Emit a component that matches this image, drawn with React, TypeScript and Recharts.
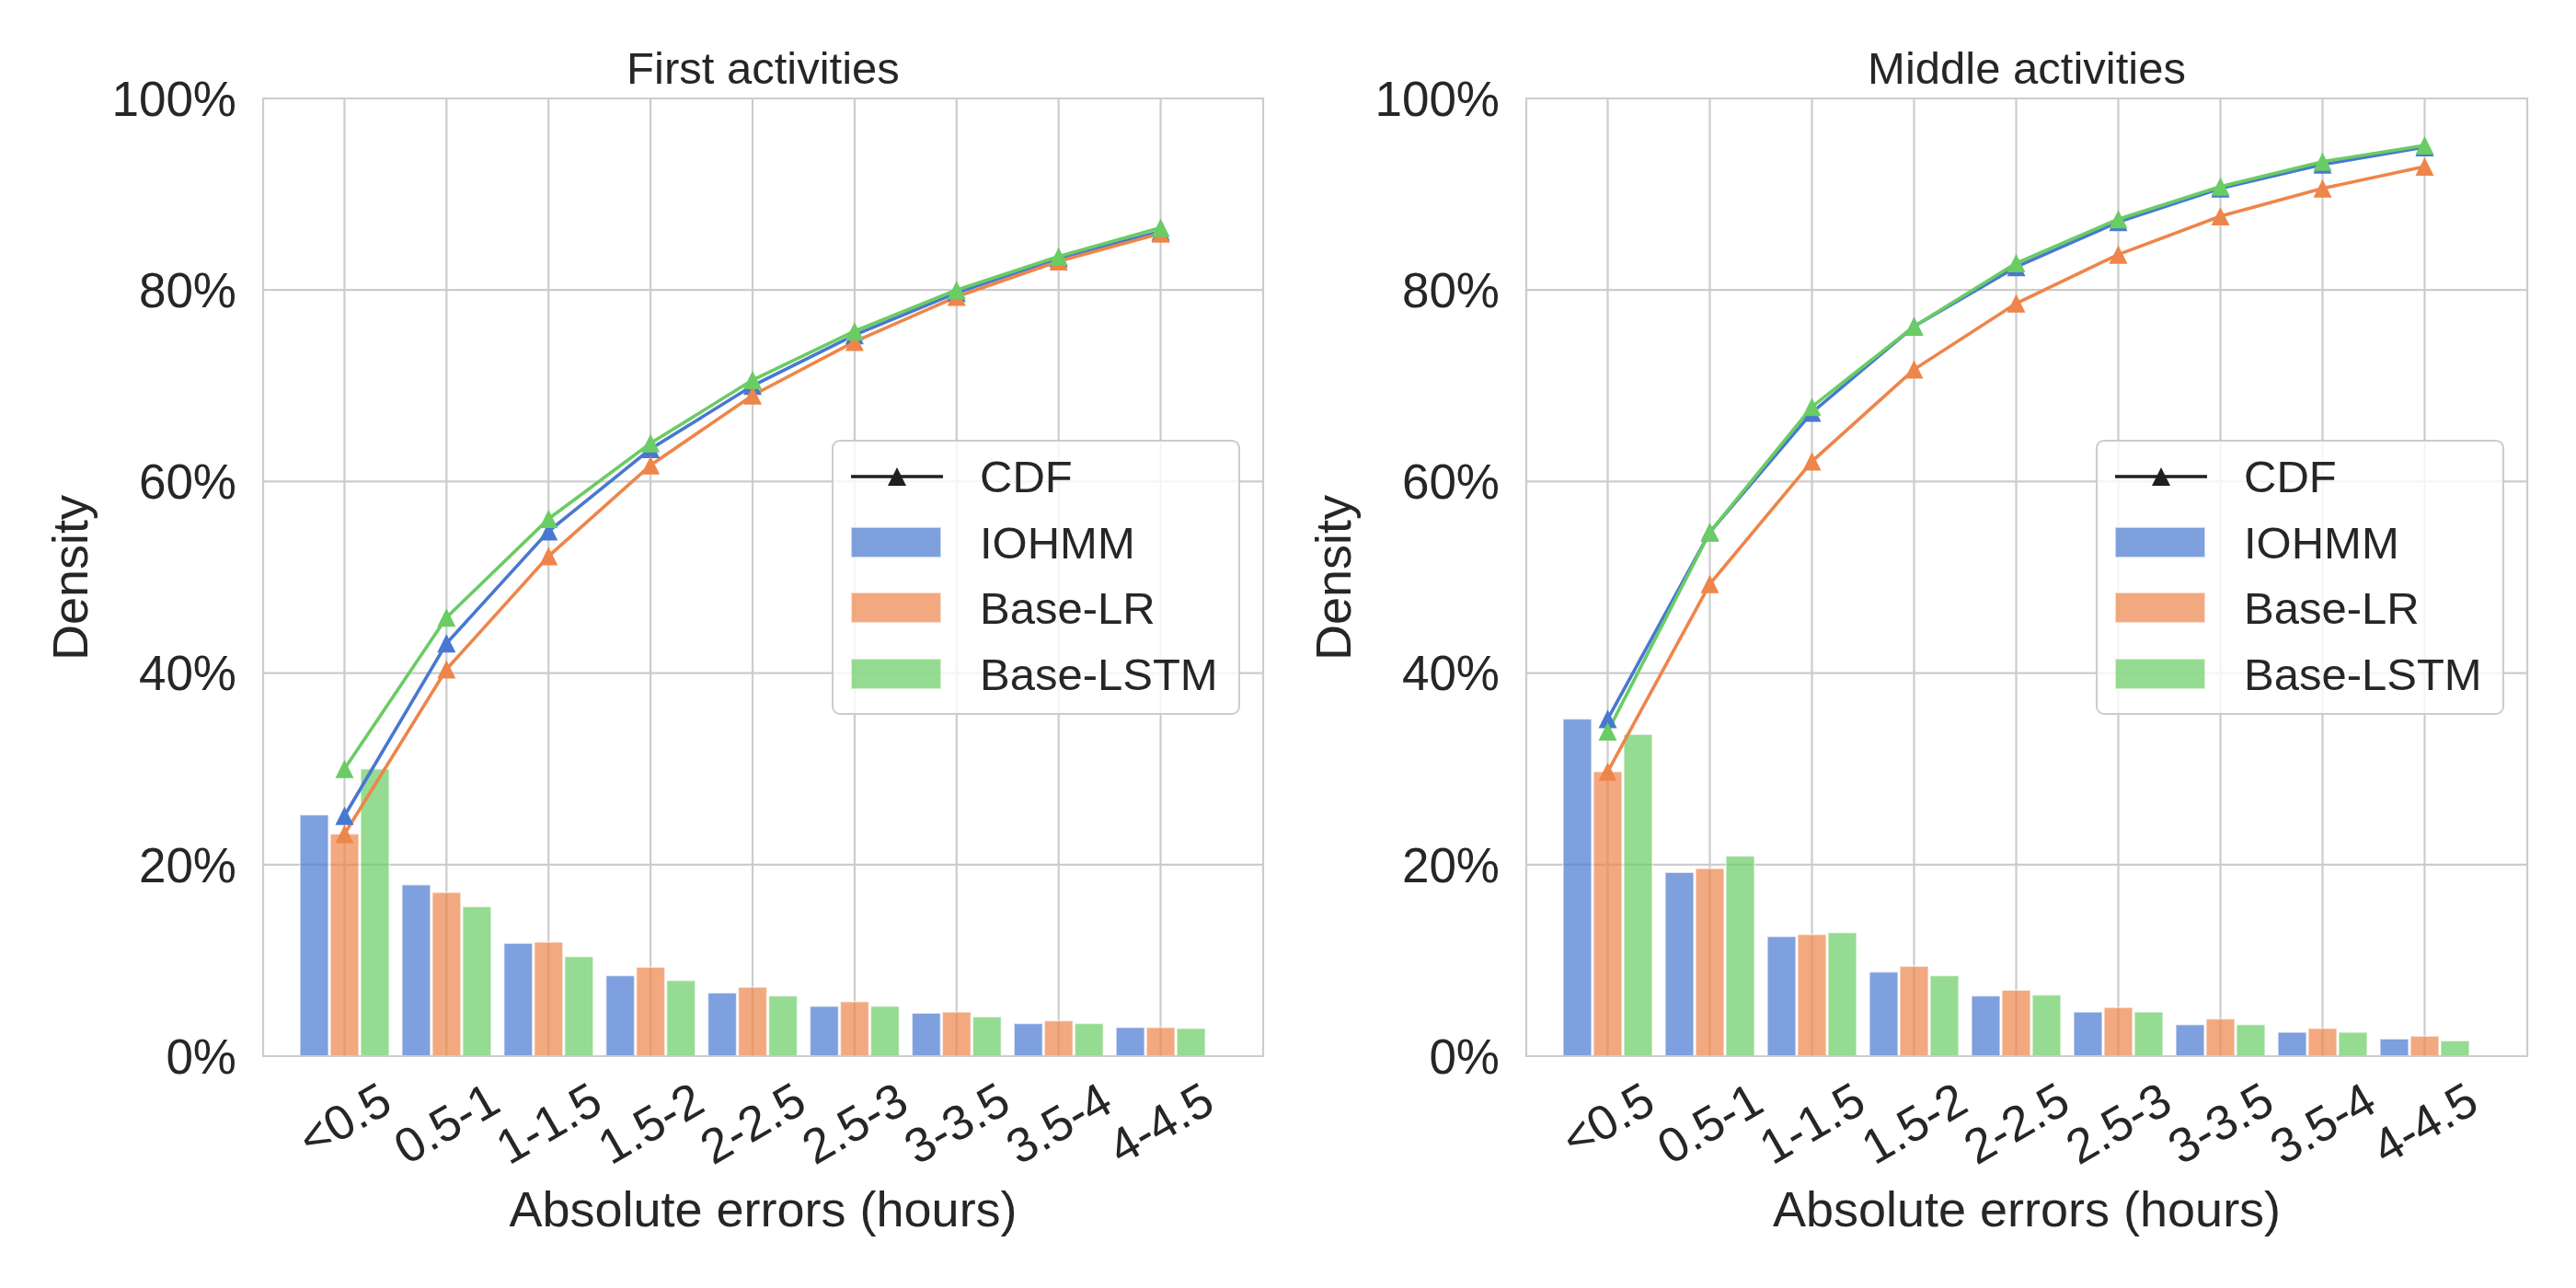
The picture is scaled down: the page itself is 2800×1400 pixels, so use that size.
import { ComposedChart, Bar, Line, XAxis, YAxis, CartesianGrid } from "recharts";

const categories = ["<0.5", "0.5-1", "1-1.5", "1.5-2", "2-2.5", "2.5-3", "3-3.5", "3.5-4", "4-4.5"];
const seriesNames = ["IOHMM", "Base-LR", "Base-LSTM"];
const seriesKeys = ["iohmm", "baseLr", "baseLstm"];
const colors = ["#4878d0", "#ee854a", "#6acc64"];
const yTicks = [0, 20, 40, 60, 80, 100];

// First activities (percent)
const firstIohmm = [25.2, 17.9, 11.8, 8.4, 6.6, 5.2, 4.5, 3.4, 3.0];
const firstBaseLr = [23.2, 17.1, 11.9, 9.3, 7.2, 5.7, 4.6, 3.7, 3.0];
const firstBaseLstm = [30.0, 15.6, 10.4, 7.9, 6.3, 5.2, 4.1, 3.4, 2.9];
const firstCdfIohmm = [25.1, 43.1, 54.8, 63.4, 70.0, 75.3, 79.7, 83.3, 86.1];
const firstCdfBaseLr = [23.2, 40.4, 52.2, 61.7, 69.0, 74.6, 79.3, 83.0, 85.9];
const firstCdfBaseLstm = [30.0, 45.8, 56.1, 64.0, 70.6, 75.7, 80.0, 83.5, 86.5];

// Middle activities (percent)
const middleIohmm = [35.2, 19.2, 12.5, 8.8, 6.3, 4.6, 3.3, 2.5, 1.8];
const middleBaseLr = [29.7, 19.6, 12.7, 9.4, 6.9, 5.1, 3.9, 2.9, 2.1];
const middleBaseLstm = [33.6, 20.9, 12.9, 8.4, 6.4, 4.6, 3.3, 2.5, 1.6];
const middleCdfIohmm = [35.2, 54.7, 67.2, 76.2, 82.4, 87.1, 90.6, 93.1, 94.9];
const middleCdfBaseLr = [29.7, 49.3, 62.1, 71.7, 78.6, 83.7, 87.7, 90.6, 92.9];
const middleCdfBaseLstm = [33.9, 54.7, 67.8, 76.2, 82.8, 87.4, 90.8, 93.4, 95.1];

const FONT = '"Liberation Sans", Arial, sans-serif';
const TEXT = "#262626";
const GRID = "#cccccc";
const CHART_W = 1400;
const CHART_H = 1400;
const Y_AXIS_W = 200;
const X_AXIS_H = 150;
const PLOT_TOP = 107;
const PLOT_BOTTOM = 1148;

function makeRows(bars: number[][], cdfs: number[][]) {
  return categories.map((cat, i) => ({
    cat,
    iohmm: bars[0][i],
    baseLr: bars[1][i],
    baseLstm: bars[2][i],
    cdf_iohmm: cdfs[0][i],
    cdf_baseLr: cdfs[1][i],
    cdf_baseLstm: cdfs[2][i],
  }));
}

const firstRows = makeRows(
  [firstIohmm, firstBaseLr, firstBaseLstm],
  [firstCdfIohmm, firstCdfBaseLr, firstCdfBaseLstm]
);
const middleRows = makeRows(
  [middleIohmm, middleBaseLr, middleBaseLstm],
  [middleCdfIohmm, middleCdfBaseLr, middleCdfBaseLstm]
);

const charW: Record<string, number> = { "<": 0.584, ".": 0.278, "-": 0.333 };
const textWidth = (s: string, size: number) =>
  s.split("").reduce((sum, c) => sum + (charW[c] ?? 0.556), 0) * size;

function XTick(props: any) {
  const { x, y, payload } = props;
  const size = 53;
  const w = textWidth(String(payload.value), size);
  const cy = y + 26 + (0.5 * w + 33) / 2;
  return (
    <text
      x={x}
      y={cy}
      textAnchor="middle"
      dominantBaseline="central"
      transform={`rotate(-30, ${x}, ${cy})`}
      fontSize={size}
      fontFamily={FONT}
      fill={TEXT}
    >
      {payload.value}
    </text>
  );
}

const triangle = (color: string) => (props: any) => {
  const { cx, cy, index } = props;
  if (cx == null || cy == null) return <g key={index} />;
  return (
    <path
      key={index}
      d={`M${cx},${cy - 10}L${cx + 10},${cy + 10}L${cx - 10},${cy + 10}Z`}
      fill={color}
    />
  );
};

function LegendBox({ left, top }: { left: number; top: number }) {
  const rowY = (i: number) => 38 + 71.5 * i;
  return (
    <div
      style={{
        position: "absolute",
        left,
        top,
        width: 444,
        height: 299,
        boxSizing: "border-box",
        border: `2.5px solid ${GRID}`,
        borderRadius: 9,
        background: "rgba(255,255,255,0.8)",
      }}
    >
      <svg
        style={{ position: "absolute", left: 19, top: rowY(0) - 14 }}
        width={100}
        height={28}
      >
        <line x1={0} y1={14} x2={100} y2={14} stroke="#1f1f1f" strokeWidth={3.5} />
        <path d="M50,4L60,24L40,24Z" fill="#1f1f1f" />
      </svg>
      {seriesNames.map((name, i) => (
        <div
          key={name}
          style={{
            position: "absolute",
            left: 19,
            top: rowY(i + 1) - 17,
            width: 98,
            height: 33,
            background: colors[i],
            opacity: 0.7,
            boxSizing: "border-box",
            border: "1.5px solid rgba(255,255,255,0.6)",
          }}
        />
      ))}
      {["CDF", ...seriesNames].map((name, i) => (
        <div
          key={name}
          style={{
            position: "absolute",
            left: 159,
            top: rowY(i) - 30,
            height: 60,
            lineHeight: "60px",
            fontSize: 49,
            fontFamily: FONT,
            color: TEXT,
            whiteSpace: "nowrap",
          }}
        >
          {name}
        </div>
      ))}
    </div>
  );
}

function Panel({
  title,
  rows,
  offsetX,
  marginLeft,
  marginRight,
}: {
  title: string;
  rows: any[];
  offsetX: number;
  marginLeft: number;
  marginRight: number;
}) {
  const plotLeft = marginLeft + Y_AXIS_W;
  const plotRight = CHART_W - marginRight;
  const plotW = plotRight - plotLeft;
  const plotH = PLOT_BOTTOM - PLOT_TOP;
  const centerX = plotLeft + plotW / 2;
  return (
    <div style={{ position: "absolute", left: offsetX, top: 0, width: CHART_W, height: CHART_H }}>
      <ComposedChart
        width={CHART_W}
        height={CHART_H}
        data={rows}
        margin={{
          top: PLOT_TOP,
          right: marginRight,
          bottom: CHART_H - PLOT_BOTTOM - X_AXIS_H,
          left: marginLeft,
        }}
        barCategoryGap={7}
        barGap={2}
      >
        <CartesianGrid stroke={GRID} strokeWidth={2.2} />
        <XAxis
          dataKey="cat"
          type="category"
          interval={0}
          padding={{ left: 33, right: 56 }}
          axisLine={false}
          tickLine={false}
          tickSize={0}
          tickMargin={0}
          height={X_AXIS_H}
          tick={(p: any) => <XTick {...p} />}
        />
        <YAxis
          domain={[0, 100]}
          ticks={yTicks}
          width={Y_AXIS_W}
          axisLine={false}
          tickLine={false}
          tickSize={0}
          tickMargin={29}
          tickFormatter={(v: number) => `${v}%`}
          tick={{ fontSize: 53, fill: TEXT, fontFamily: FONT }}
        />
        {seriesKeys.map((k, i) => (
          <Bar
            key={k}
            dataKey={k}
            fill={colors[i]}
            fillOpacity={0.7}
            stroke="#ffffff"
            strokeOpacity={0.6}
            strokeWidth={1.5}
            isAnimationActive={false}
          />
        ))}
        {seriesKeys.map((k, i) => (
          <Line
            key={"cdf_" + k}
            type="linear"
            dataKey={"cdf_" + k}
            stroke={colors[i]}
            strokeWidth={3.6}
            dot={triangle(colors[i])}
            activeDot={false}
            isAnimationActive={false}
          />
        ))}
      </ComposedChart>
      <div
        style={{
          position: "absolute",
          left: plotLeft - 1.35,
          top: PLOT_TOP - 1.35,
          width: plotW + 2.7,
          height: plotH + 2.7,
          boxSizing: "border-box",
          border: `2.7px solid ${GRID}`,
          pointerEvents: "none",
        }}
      />
      <div
        style={{
          position: "absolute",
          left: centerX - 400,
          width: 800,
          top: 49.5,
          textAlign: "center",
          fontSize: 49,
          lineHeight: "49px",
          fontFamily: FONT,
          color: TEXT,
        }}
      >
        {title}
      </div>
      <div
        style={{
          position: "absolute",
          left: centerX - 400,
          width: 800,
          top: 1287,
          textAlign: "center",
          fontSize: 54,
          lineHeight: "54px",
          fontFamily: FONT,
          color: TEXT,
        }}
      >
        Absolute errors (hours)
      </div>
      <div
        style={{
          position: "absolute",
          left: plotLeft - 210 - 200,
          top: PLOT_TOP + plotH / 2 - 27,
          width: 400,
          height: 54,
          textAlign: "center",
          fontSize: 54,
          lineHeight: "54px",
          fontFamily: FONT,
          color: TEXT,
          transform: "rotate(-90deg)",
        }}
      >
        Density
      </div>
      <LegendBox left={plotRight - 25 - 444} top={478} />
    </div>
  );
}

export default function App() {
  return (
    <div
      style={{
        position: "absolute",
        left: 0,
        top: 0,
        width: 2800,
        height: 1400,
        background: "#ffffff",
        overflow: "hidden",
      }}
    >
      <Panel title="First activities" rows={firstRows} offsetX={0} marginLeft={86} marginRight={27} />
      <Panel title="Middle activities" rows={middleRows} offsetX={1400} marginLeft={59} marginRight={53} />
    </div>
  );
}
